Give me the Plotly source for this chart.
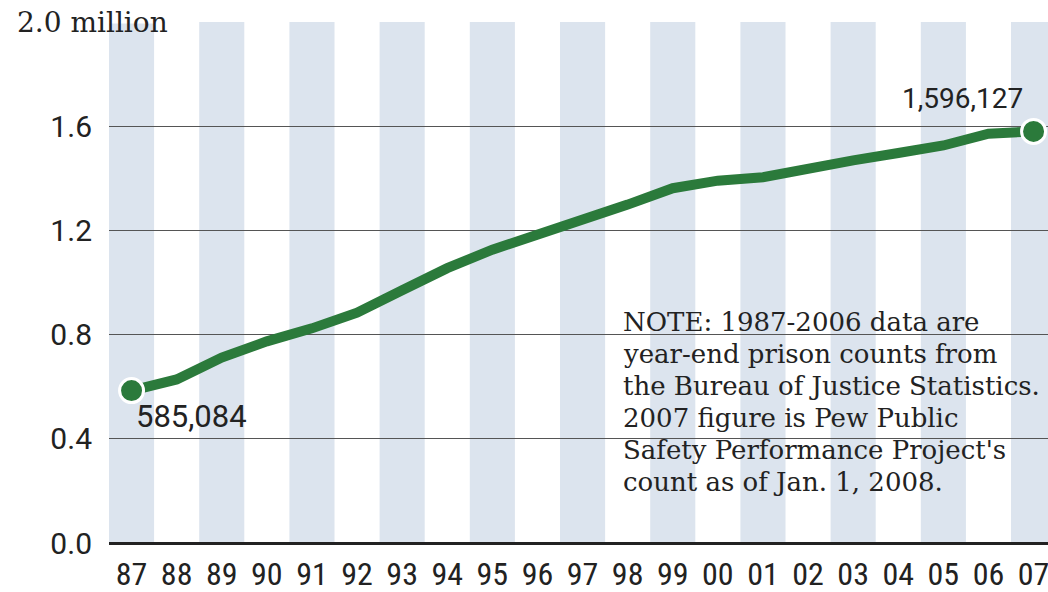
import plotly.graph_objects as go

years = ["87", "88", "89", "90", "91", "92", "93", "94", "95", "96",
         "97", "98", "99", "00", "01", "02", "03", "04", "05", "06", "07"]
inmates_millions = [0.585, 0.628, 0.712, 0.774, 0.824, 0.884, 0.970, 1.055,
                    1.126, 1.182, 1.245, 1.299, 1.362, 1.391, 1.404, 1.440,
                    1.469, 1.497, 1.526, 1.571, 1.580]
y_tickvals = [0.0, 0.4, 0.8, 1.2, 1.6, 2.0]
y_ticktext = ["0.0", "0.4", "0.8", "1.2", "1.6", ""]
start_label = "585,084"
end_label = "1,596,127"
note_lines = ["NOTE: 1987-2006 data are",
              "year-end prison counts from",
              "the Bureau of Justice Statistics.",
              "2007 figure is Pew Public",
              "Safety Performance Project's",
              "count as of Jan. 1, 2008."]

GREEN = "#2b7a3b"
BAND = "#dce4ee"
NARROW = "Liberation Sans Narrow, Roboto Condensed, Roboto, sans-serif"
SANS = "Roboto, sans-serif"
SERIF = "DejaVu Serif, serif"

x_idx = list(range(len(years)))

fig = go.Figure()
fig.add_trace(go.Scatter(
    x=x_idx, y=inmates_millions, mode="lines",
    line=dict(color=GREEN, width=10), hoverinfo="skip", showlegend=False))
fig.add_trace(go.Scatter(
    x=[x_idx[0], x_idx[-1]], y=[inmates_millions[0], inmates_millions[-1]],
    mode="markers",
    marker=dict(color=GREEN, size=24, line=dict(color="white", width=3)),
    showlegend=False))

shapes = []
for i in x_idx:
    if i % 2 == 0:
        shapes.append(dict(type="rect", xref="x", yref="y", x0=i - 0.5, x1=i + 0.5,
                           y0=0, y1=2.0, fillcolor=BAND, line=dict(width=0),
                           layer="below"))
# hide the 2.0 gridline under the "2.0 million" label
shapes.append(dict(type="line", xref="x", yref="y", x0=-0.5, x1=0.95, y0=2.0, y1=2.0,
                   line=dict(color="white", width=3), layer="above"))

annotations = [
    dict(text="2.0 million", xref="paper", yref="y", x=-0.1, y=2.0,
         xanchor="left", yanchor="middle", showarrow=False,
         font=dict(family=SERIF, size=28, color="#222")),
    dict(text=start_label, xref="x", yref="y", x=0.05, y=inmates_millions[0],
         xanchor="left", yanchor="top", yshift=-5, showarrow=False,
         font=dict(family=SANS, size=31, color="#222")),
    dict(text=end_label, xref="x", yref="y", x=19.81, y=inmates_millions[-1],
         xanchor="right", yanchor="bottom", yshift=14, showarrow=False,
         font=dict(family=SANS, size=28, color="#222")),
]
for k, line in enumerate(note_lines):
    annotations.append(dict(text=line, xref="x", yref="y", x=10.85, y=0.915,
                            xanchor="left", yanchor="top", yshift=-32 * k,
                            align="left", showarrow=False,
                            font=dict(family=SERIF, size=26, color="#222")))

fig.update_layout(
    width=1048, height=592,
    margin=dict(l=109, r=0, t=22, b=49),
    paper_bgcolor="white", plot_bgcolor="white",
    shapes=shapes, annotations=annotations,
    xaxis=dict(range=[-0.5, 20.32], tickvals=x_idx, ticktext=years,
               showgrid=False, zeroline=False, showline=False, ticks="",
               tickfont=dict(family=NARROW, size=32, color="#222"),
               ticklabelstandoff=9, ticklabeloverflow="allow", fixedrange=True),
    yaxis=dict(range=[0, 2.0], tickvals=y_tickvals, ticktext=y_ticktext,
               showgrid=True, gridcolor="#555", gridwidth=1,
               zeroline=True, zerolinecolor="#222", zerolinewidth=3,
               showline=False, ticks="",
               tickfont=dict(family=SANS, size=30, color="#222"),
               ticklabelstandoff=16, fixedrange=True),
)

fig.write_html("out.html", config={"displayModeBar": False},
               post_script="document.body.style.margin='0';")
